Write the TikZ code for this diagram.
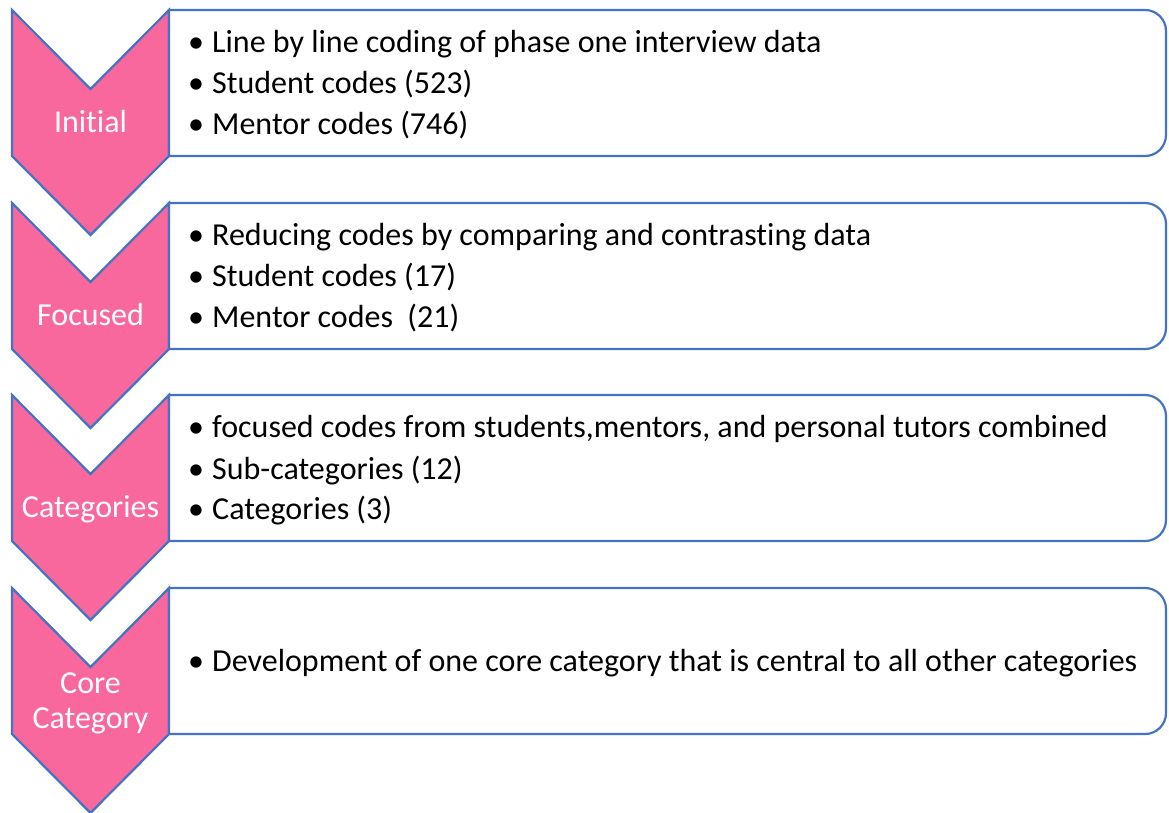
\documentclass[tikz,border=0pt]{standalone}
\usepackage{fontspec}
\setmainfont{Carlito}[Ligatures=NoCommon]
\definecolor{chevpink}{HTML}{F8689C}
\definecolor{edgeblue}{HTML}{4472C4}
\tikzset{
  chev/.style={fill=chevpink, draw=edgeblue, line width=2.2pt, line join=miter},
  infobox/.style={fill=white, draw=edgeblue, line width=2.2pt},
  chevlabel/.style={text=white, font=\fontsize{32}{36}\selectfont, inner sep=0pt, anchor=base, align=center},
  bulletmark/.style={font=\fontsize{32}{36}\selectfont, inner sep=0pt, anchor=base west},
  itemtext/.style={font=\fontsize{32}{36}\selectfont, inner sep=0pt, anchor=base west},
}
% chevron pointing down: top edge at #1
\newcommand{\stagechevron}[1]{%
  \draw[chev] (12,#1) -- (90.5,#1+79) -- (169,#1) -- (169,#1+146) -- (90.5,#1+225) -- (12,#1+146) -- cycle;}
% box with square left corners and rounded right corners (y axis points down)
\newcommand{\stagebox}[1]{%
  \draw[infobox] (169,#1) -- (1145,#1) arc[start angle=-90, end angle=0, radius=21] -- (1166,#1+125) arc[start angle=0, end angle=90, radius=21] -- (169,#1+146) -- cycle;}
\begin{document}
\begin{tikzpicture}[x=1pt, y=-1pt]
\useasboundingbox (0,0) rectangle (1169,812);

\stagechevron{10}
\stagechevron{203}
\stagechevron{395}
\stagechevron{588}

\stagebox{10}
\stagebox{203}
\stagebox{395}
\stagebox{588}

% stage labels
\node[chevlabel] (lab1) at (90.5,132) {Initial};
\node[chevlabel] (lab2) at (90.5,325) {Focused};
\node[chevlabel] (lab3) at (90.5,517) {Categories};
\node[chevlabel] (lab4a) at (90.5,693) {Core};
\node[chevlabel] (lab4b) at (90.5,728) {Category};

% stage 1 items
\node[bulletmark] (b11) at (188,52) {•};
\node[itemtext] (t11) at (212,52) {Line by line coding of phase one interview data};
\node[bulletmark] (b12) at (188,93) {•};
\node[itemtext] (t12) at (212,93) {Student codes (523)};
\node[bulletmark] (b13) at (188,134) {•};
\node[itemtext] (t13) at (212,134) {Mentor codes (746)};

% stage 2 items
\node[bulletmark] (b21) at (188,245) {•};
\node[itemtext] (t21) at (212,245) {Reducing codes by comparing and contrasting data};
\node[bulletmark] (b22) at (188,286) {•};
\node[itemtext] (t22) at (212,286) {Student codes (17)};
\node[bulletmark] (b23) at (188,327) {•};
\node[itemtext] (t23) at (212,327) {Mentor codes \ (21)};

% stage 3 items
\node[bulletmark] (b31) at (188,437) {•};
\node[itemtext] (t31) at (212,437) {focused codes from students,mentors, and personal tutors combined};
\node[bulletmark] (b32) at (188,479) {•};
\node[itemtext] (t32) at (212,479) {Sub-categories (12)};
\node[bulletmark] (b33) at (188,519) {•};
\node[itemtext] (t33) at (212,519) {Categories (3)};

% stage 4 item
\node[bulletmark] (b41) at (188,671) {•};
\node[itemtext] (t41) at (212,671) {Development of one core category that is central to all other categories};
\end{tikzpicture}
\end{document}
